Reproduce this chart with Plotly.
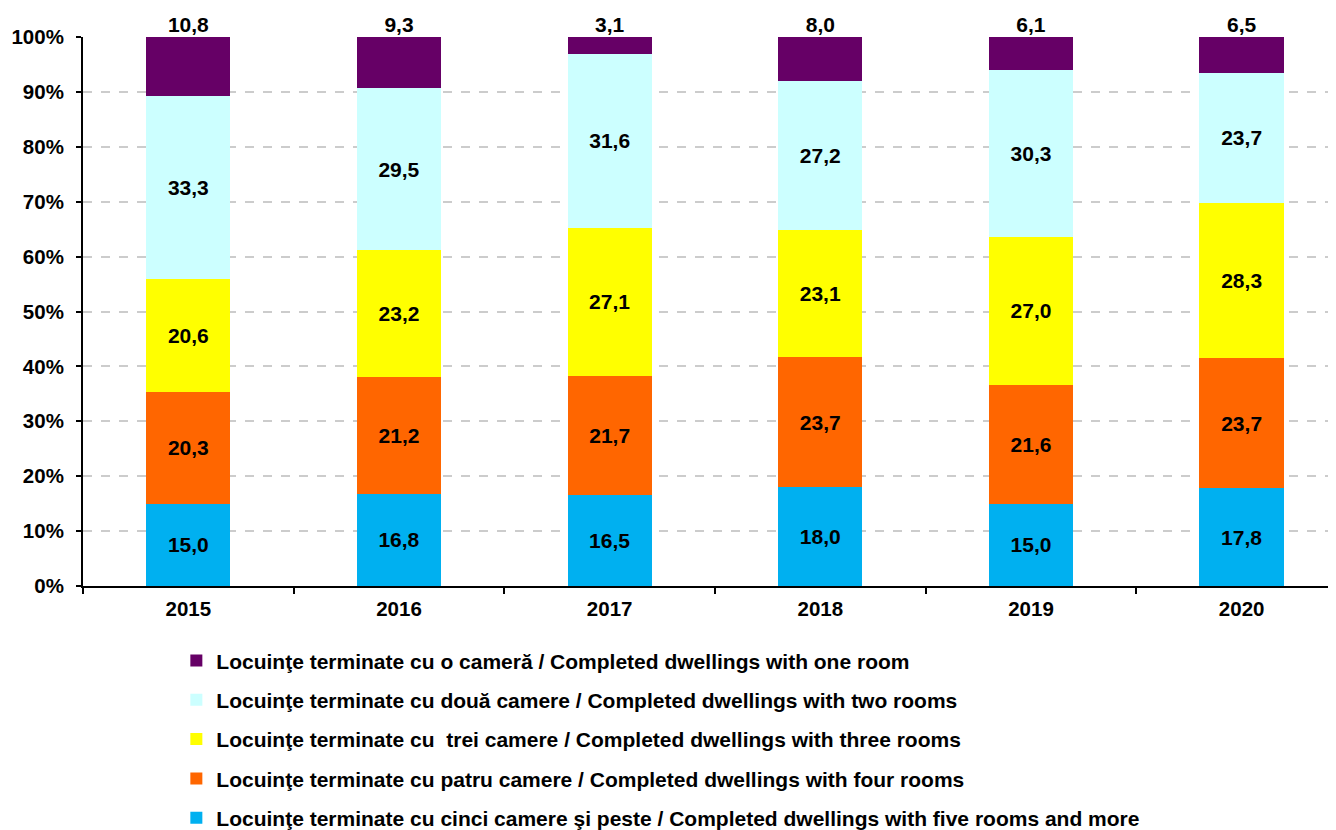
import plotly.graph_objects as go

years = ["2015", "2016", "2017", "2018", "2019", "2020"]

five_rooms = [15.0, 16.8, 16.5, 18.0, 15.0, 17.8]
four_rooms = [20.3, 21.2, 21.7, 23.7, 21.6, 23.7]
three_rooms = [20.6, 23.2, 27.1, 23.1, 27.0, 28.3]
two_rooms = [33.3, 29.5, 31.6, 27.2, 30.3, 23.7]
one_room = [10.8, 9.3, 3.1, 8.0, 6.1, 6.5]

names = [
    "Locuinţe terminate cu cinci camere şi peste / Completed dwellings with five rooms and more",
    "Locuinţe terminate cu patru camere / Completed dwellings with four rooms",
    "Locuinţe terminate cu  trei camere / Completed dwellings with three rooms",
    "Locuinţe terminate cu două camere / Completed dwellings with two rooms",
    "Locuinţe terminate cu o cameră / Completed dwellings with one room",
]
colors = ["#00B0F0", "#FF6600", "#FFFF00", "#CCFFFF", "#660066"]
series = [five_rooms, four_rooms, three_rooms, two_rooms, one_room]

FONT = "Liberation Sans, Arial, sans-serif"
TICK_SIZE = 20.5
LABEL_SIZE = 21
LEGEND_SIZE = 21

def fmt(v):
    return f"{v:.1f}".replace(".", ",")

fig = go.Figure()
for i, (nm, col, vals) in enumerate(zip(names, colors, series)):
    top = i == len(series) - 1
    fig.add_trace(go.Bar(
        x=years, y=vals, name=nm,
        marker=dict(color=col, line=dict(width=0)),
        text=None if top else [fmt(v) for v in vals],
        textposition="inside",
        insidetextanchor="middle",
        textfont=dict(family=FONT, size=LABEL_SIZE, color="black", weight="bold"),
        constraintext="none",
        legendgroup=f"g{i}",
        legendrank=len(series) - i,
        hoverinfo="skip",
    ))

# labels of the top segment, placed above each stack
totals = [round(sum(s[k] for s in series), 1) for k in range(len(years))]
fig.add_trace(go.Scatter(
    x=years, y=totals, mode="text",
    text=[fmt(v) for v in one_room],
    textposition="top center",
    textfont=dict(family=FONT, size=LABEL_SIZE, color="black", weight="bold"),
    cliponaxis=False, showlegend=False, hoverinfo="skip",
))

fig.update_layout(
    barmode="stack",
    bargap=0.6,
    width=1328, height=822,
    margin=dict(l=75, r=0, t=29, b=244, autoexpand=False),
    paper_bgcolor="white", plot_bgcolor="white",
    font=dict(family=FONT, size=18, color="black"),
    xaxis=dict(
        range=[-0.5, 5.448],
        showline=True, linecolor="black", linewidth=2,
        ticks="outside", tickson="boundaries", ticklen=6, tickwidth=2, tickcolor="black",
        tickfont=dict(family=FONT, size=TICK_SIZE, color="black", weight="bold"),
        ticklabelstandoff=3,
        showgrid=False, automargin=False,
    ),
    yaxis=dict(
        range=[0, 100], dtick=10, ticksuffix="%",
        showline=True, linecolor="black", linewidth=2,
        ticks="outside", ticklen=5, tickwidth=2, tickcolor="black",
        tickfont=dict(family=FONT, size=TICK_SIZE, color="black", weight="bold"),
        ticklabelstandoff=8,
        showgrid=True, gridcolor="#CCCCCC", griddash="dash", gridwidth=1.5,
        zeroline=False, automargin=False,
    ),
    legend=dict(
        orientation="v",
        traceorder="grouped",
        tracegroupgap=9,
        x=0.0745, xanchor="left",
        y=-0.099, yanchor="top",
        font=dict(family=FONT, size=LEGEND_SIZE, color="black", weight="bold"),
        itemwidth=30,
        bgcolor="rgba(0,0,0,0)",
    ),
)

fig.write_html("out.html")
